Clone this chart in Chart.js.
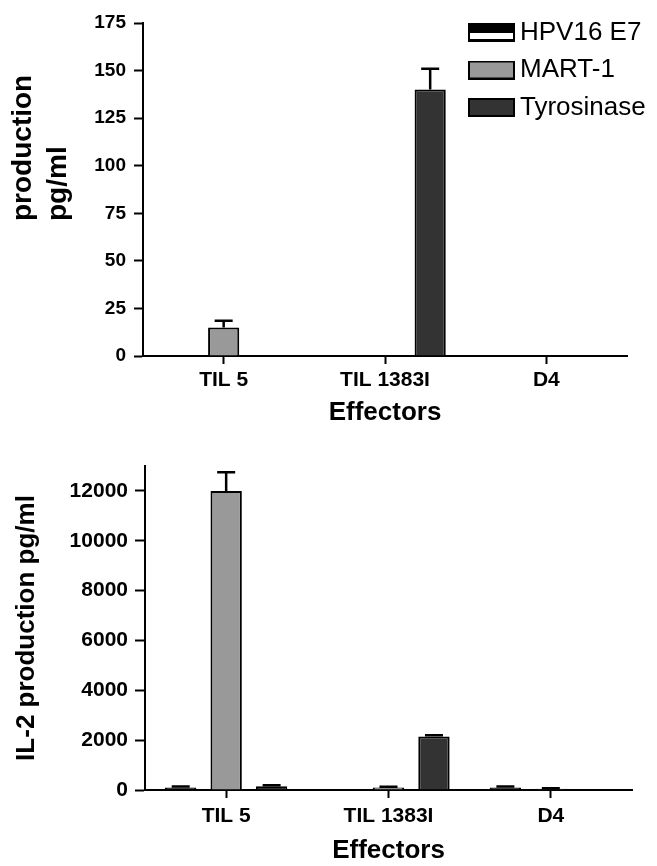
<!DOCTYPE html>
<html>
<head>
<meta charset="utf-8">
<script src="https://cdn.jsdelivr.net/npm/chart.js@4.4.0/dist/chart.umd.min.js"></script>
<style>
  body { margin: 0; background: #fff; }
  canvas { position: absolute; left: 0; }
  #top { top: 0; }
  #bottom { top: 430px; }
</style>
</head>
<body>
<canvas id="top" width="657" height="430"></canvas>
<canvas id="bottom" width="657" height="436"></canvas>
<script>
const effectors = ['TIL 5', 'TIL 1383I', 'D4'];
const seriesNames = ['HPV16 E7', 'MART-1', 'Tyrosinase'];
const seriesColors = ['#000', '#999', '#333'];

// upper panel
const topTitle = ['production', 'pg/ml'];
const topHpv = [0, 0, 0];
const topMart = [15, 0, 0];
const topTyr = [0, 140, 0];
const topHpvErr = [0, 0, 0];
const topMartErr = [3.5, 0, 0];
const topTyrErr = [0, 11, 0];
const topTicks = [0, 25, 50, 75, 100, 125, 150, 175];

// IL-2 panel
const il2Hpv = [100, 0, 100];
const il2Mart = [12000, 100, 50];
const il2Tyr = [150, 2150, 0];
const il2HpvErr = [40, 0, 40];
const il2MartErr = [750, 30, 20];
const il2TyrErr = [40, 50, 0];
const il2Ticks = [0, 2000, 4000, 6000, 8000, 10000, 12000];

Chart.defaults.font.family = '"Liberation Sans", Arial, sans-serif';
Chart.defaults.color = '#000';

// legend swatches (HPV one is half black / half white)
function swatch(fill, split) {
  const c = document.createElement('canvas');
  c.width = 47; c.height = 19;
  const g = c.getContext('2d');
  g.fillStyle = '#000';
  g.fillRect(0, 0, 47, 19);
  if (split) {
    g.fillStyle = '#fff';
    g.fillRect(2, 10, 43, 6);
  } else {
    g.fillStyle = fill;
    g.fillRect(2, 2, 43, 15);
  }
  return c;
}
const swatches = [swatch('#000', true), swatch('#999'), swatch('#333')];

const errorBars = {
  id: 'errorBars',
  afterDatasetsDraw(chart) {
    const ctx = chart.ctx;
    const y = chart.scales.y;
    ctx.save();
    ctx.strokeStyle = '#000';
    ctx.lineWidth = 2.5;
    chart.data.datasets.forEach((ds, i) => {
      chart.getDatasetMeta(i).data.forEach((bar, j) => {
        const e = ds.errors[j];
        if (!e) return;
        const top = y.getPixelForValue(ds.data[j] + e);
        ctx.beginPath();
        ctx.moveTo(bar.x, bar.y);
        ctx.lineTo(bar.x, top);
        ctx.moveTo(bar.x - 9, top);
        ctx.lineTo(bar.x + 9, top);
        ctx.stroke();
      });
    });
    ctx.restore();
  }
};

// puts the legend inside the plot, top right
const placeLegend = {
  id: 'placeLegend',
  afterLayout(chart) {
    const lg = chart.legend;
    lg.left = 464.5;
    lg.top = 8;
    lg.right = chart.width;
    lg.bottom = chart.height;
  }
};

// two-line rotated y title of the upper panel
const sideTitle = {
  id: 'sideTitle',
  afterDraw(chart) {
    const ctx = chart.ctx;
    ctx.save();
    ctx.fillStyle = '#000';
    ctx.font = 'bold 28px "Liberation Sans", Arial, sans-serif';
    topTitle.forEach((t, i) => {
      ctx.save();
      ctx.translate(31 + i * 35, 221);
      ctx.rotate(-Math.PI / 2);
      ctx.fillText(t, 0, 0);
      ctx.restore();
    });
    ctx.restore();
  }
};

function datasets(vals, errs) {
  return vals.map((v, i) => ({
    label: seriesNames[i],
    data: v,
    errors: errs[i],
    backgroundColor: seriesColors[i],
    borderColor: '#000',
    borderWidth: 2,
    barPercentage: 0.69,
    categoryPercentage: 0.84
  }));
}

function options(p) {
  return {
    responsive: false,
    animation: false,
    devicePixelRatio: 1,
    layout: { padding: p.padding },
    plugins: {
      tooltip: { enabled: false },
      legend: p.legend || { display: false }
    },
    scales: {
      x: {
        grid: { offset: false, drawOnChartArea: false, tickLength: 8, tickWidth: 2, tickColor: '#000' },
        border: { color: '#000', width: 2 },
        ticks: { font: { size: 21, weight: 'bold' }, padding: p.xTickPad },
        title: { display: true, text: 'Effectors', font: { size: 26, weight: 'bold' }, padding: { top: 0, bottom: p.xTitlePad } },
        afterFit: s => { s.height = p.xHeight; }
      },
      y: {
        min: 0,
        max: p.max,
        afterBuildTicks: s => { s.ticks = p.ticks.map(v => ({ value: v })); },
        grid: { drawOnChartArea: false, tickLength: p.yTickLen, tickWidth: 2, tickColor: '#000' },
        border: { color: '#000', width: 2 },
        ticks: { font: { size: p.yFont, weight: 'bold' }, padding: p.yTickPad, callback: v => String(v) },
        title: p.yTitle || { display: false },
        afterFit: s => { s.width = p.yWidth; }
      }
    }
  };
}

new Chart(document.getElementById('top'), {
  type: 'bar',
  data: {
    labels: effectors,
    datasets: datasets([topHpv, topMart, topTyr], [topHpvErr, topMartErr, topTyrErr])
  },
  options: options({
    padding: { top: 23, right: 30, left: 0, bottom: 0 },
    max: 175, ticks: topTicks,
    xHeight: 74, xTickPad: 4, xTitlePad: 2,
    yWidth: 143, yTickLen: 9, yTickPad: 8, yFont: 19,
    legend: {
      display: true,
      position: 'chartArea',
      align: 'start',
      labels: {
        usePointStyle: true,
        pointStyleWidth: 31,
        boxHeight: 19,
        padding: 11.5,
        font: { size: 26 },
        generateLabels: chart => Chart.defaults.plugins.legend.labels.generateLabels(chart)
          .map((item, i) => Object.assign(item, { pointStyle: swatches[i] }))
      }
    }
  }),
  plugins: [errorBars, placeLegend, sideTitle]
});

new Chart(document.getElementById('bottom'), {
  type: 'bar',
  data: {
    labels: effectors,
    datasets: datasets([il2Hpv, il2Mart, il2Tyr], [il2HpvErr, il2MartErr, il2TyrErr])
  },
  options: options({
    padding: { top: 36, right: 25, left: 0, bottom: 0 },
    max: 13000, ticks: il2Ticks,
    xHeight: 76, xTickPad: 6, xTitlePad: 0,
    yWidth: 145, yTickLen: 10, yTickPad: 7, yFont: 21,
    yTitle: { display: true, text: 'IL-2 production pg/ml', font: { size: 26, weight: 'bold' }, padding: { top: 11, bottom: 0 } }
  }),
  plugins: [errorBars]
});
</script>
</body>
</html>
